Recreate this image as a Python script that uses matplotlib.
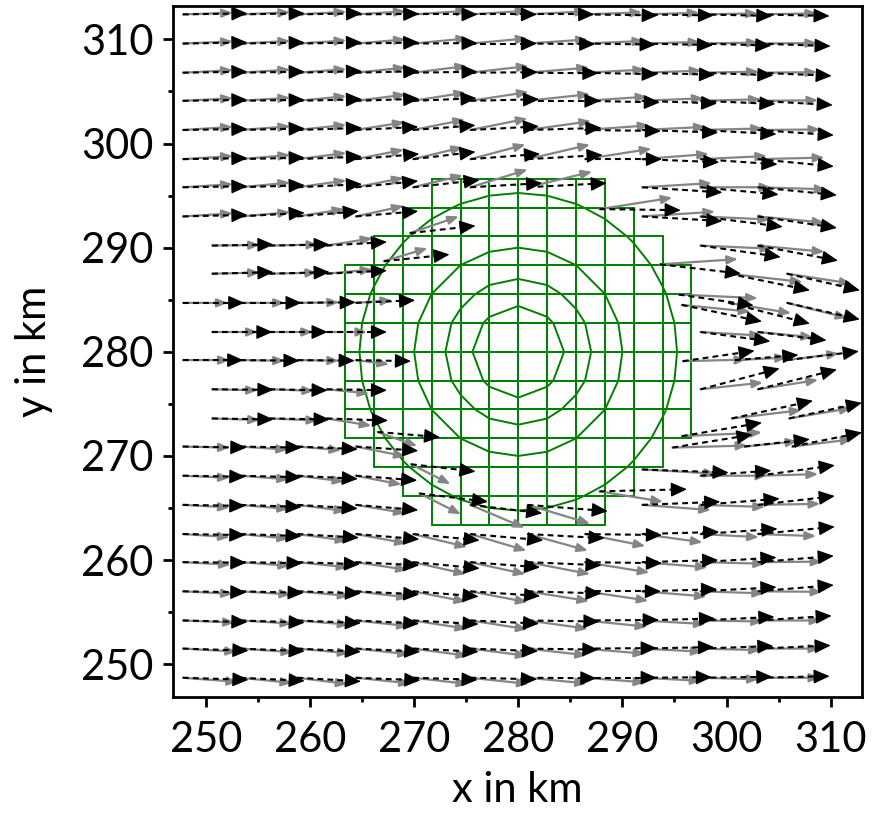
import matplotlib
matplotlib.use("Agg")
import matplotlib.pyplot as plt
import numpy as np
from matplotlib.patches import Rectangle
from matplotlib.ticker import MultipleLocator

# ---------------- data (km) ----------------
COLS = [247.8, 253.3, 258.8, 264.4, 269.9, 275.4, 280.9, 286.4, 291.9, 297.5, 303.0]
STAG = [250.6, 256.1, 261.6, 267.1, 272.7, 278.2, 283.7, 289.2, 294.7, 300.2, 305.8]

ROW_Y = [312.4, 309.6, 306.8, 304.1, 301.3, 298.5, 295.8, 293.0, 290.2, 287.5, 284.7, 281.9,
         279.2, 276.4, 273.6, 270.9, 268.1, 265.3, 262.5, 259.8, 257.0, 254.2, 251.5, 248.7]

ROW_X = [
    COLS, COLS, COLS, COLS, COLS, COLS,
    COLS[0:7] + COLS[8:11],
    COLS[0:4] + COLS[8:11],
    STAG[0:3] + COLS[9:11],
    STAG[0:3] + STAG[9:11],
    COLS[0:4] + STAG[9:11],
    STAG[0:3] + COLS[9:11],
    COLS[0:4] + [300.8, STAG[10]],
    STAG[0:3] + COLS[9:11],
    STAG[0:3] + [300.5, 306.0],
    COLS[0:4] + [301.7, 306.3],
    COLS[0:4] + COLS[9:11],
    COLS[0:4] + [COLS[5], COLS[6]] + COLS[8:11],
    COLS, COLS, COLS, COLS, COLS, COLS,
]

# gray (solid) vectors
GU = [
    [4.8, 4.8, 4.7, 4.8, 5.3, 5.5, 5.7, 5.5, 5.5, 5.5, 5.7],
    [4.8, 4.8, 4.7, 4.8, 5.3, 5.5, 5.8, 5.7, 5.6, 5.6, 5.7],
    [4.8, 4.8, 4.7, 4.8, 5.2, 5.6, 5.9, 5.8, 5.7, 5.6, 5.7],
    [4.8, 4.8, 4.7, 4.8, 5.1, 5.6, 6.0, 6.0, 5.9, 5.8, 5.8],
    [4.8, 4.8, 4.7, 4.7, 5.0, 5.5, 6.1, 6.2, 6.1, 6.0, 6.0],
    [4.8, 4.8, 4.7, 4.6, 4.8, 5.3, 6.0, 6.4, 6.4, 6.4, 6.4],
    [4.8, 4.8, 4.7, 4.6, 4.8, 5.5, 6.2, 6.7, 6.8, 6.6],
    [4.8, 4.8, 4.5, 4.6, 7.0, 6.7, 6.4],
    [4.6, 4.7, 4.4, 6.9, 6.4],
    [4.6, 4.6, 4.4, 7.1, 6.2],
    [4.3, 4.3, 4.0, 3.5, 6.0, 5.8],
    [4.4, 4.2, 3.9, 5.9, 5.3],
    [4.5, 4.3, 4.0, 3.2, 5.0, 5.0],
    [4.4, 4.3, 4.1, 6.0, 5.8],
    [4.6, 4.7, 4.3, 6.7, 6.0],
    [4.5, 4.6, 4.2, 4.8, 5.1, 5.8],
    [4.5, 4.7, 4.5, 4.4, 6.4, 5.8],
    [4.5, 4.7, 4.7, 4.8, 5.2, 6.0, 6.6, 6.2, 6.0],
    [4.5, 4.7, 4.8, 4.9, 5.2, 5.4, 5.8, 5.8, 5.8, 5.6, 5.6],
    [4.6, 4.8, 4.9, 5.0, 5.1, 5.3, 6.0, 6.2, 6.3, 6.2, 6.2],
    [4.8, 4.9, 5.0, 5.1, 5.1, 5.5, 5.9, 6.1, 6.2, 6.1, 6.2],
    [5.0, 5.0, 5.0, 5.1, 5.2, 5.5, 5.8, 6.0, 6.1, 6.0, 6.1],
    [5.2, 5.1, 5.0, 5.2, 5.3, 5.5, 5.7, 5.8, 5.8, 5.8, 6.0],
    [5.3, 5.0, 4.8, 5.3, 5.3, 5.6, 5.7, 5.8, 5.7, 5.6, 6.0],
]
GV = [
    [0.15, 0.2, 0.25, 0.3, 0.35, 0.35, 0.3, 0.2, 0.15, 0.1, 0.1],
    [0.2, 0.25, 0.3, 0.4, 0.5, 0.5, 0.4, 0.25, 0.15, 0.1, 0.05],
    [0.25, 0.3, 0.35, 0.5, 0.65, 0.65, 0.5, 0.3, 0.2, 0.1, 0.05],
    [0.25, 0.3, 0.45, 0.6, 0.8, 0.85, 0.65, 0.4, 0.25, 0.15, 0.05],
    [0.3, 0.35, 0.5, 0.75, 1.0, 1.1, 0.85, 0.45, 0.3, 0.15, 0.05],
    [0.3, 0.4, 0.6, 0.9, 1.15, 1.4, 1.4, 1.0, 0.5, 0.3, 0.15],
    [0.3, 0.45, 0.65, 0.9, 1.15, 1.7, 1.5, 0.4, 0.0, -0.2],
    [0.3, 0.4, 0.7, 1.0, 0.45, -0.3, -0.6],
    [0.05, 0.1, 0.7, -0.3, -0.6],
    [0.1, 0.1, 0.4, -0.8, -0.95],
    [0.0, 0.0, 0.05, 0.25, -1.0, -1.45],
    [0.0, 0.0, 0.0, -0.35, -0.5],
    [0.0, -0.05, -0.05, -0.4, 0.25, 0.65],
    [-0.1, -0.15, -0.4, 0.65, 0.9],
    [-0.15, -0.2, -0.7, 0.8, 1.0],
    [-0.1, -0.3, -0.35, -0.95, 0.5, 0.7],
    [-0.2, -0.35, -0.55, -0.85, 0.0, 0.15],
    [-0.25, -0.4, -0.6, -0.8, -2.2, -1.8, -0.5, -0.2, 0.1],
    [-0.3, -0.45, -0.65, -0.9, -1.25, -1.6, -1.6, -1.15, -0.8, -0.3, -0.2],
    [-0.25, -0.35, -0.5, -0.75, -1.15, -1.15, -1.15, -1.0, -0.5, -0.15, 0.05],
    [-0.25, -0.3, -0.45, -0.6, -1.0, -1.05, -0.95, -0.9, -0.5, -0.2, -0.05],
    [-0.2, -0.3, -0.4, -0.55, -0.8, -0.85, -0.8, -0.6, -0.35, -0.1, 0.0],
    [-0.3, -0.35, -0.45, -0.55, -0.7, -0.7, -0.65, -0.5, -0.3, -0.15, 0.0],
    [-0.4, -0.5, -0.6, -0.55, -0.6, -0.6, -0.55, -0.45, -0.3, -0.15, 0.0],
]
# black (dashed) vectors
BU = [
    [6.2, 6.2, 6.2, 6.1, 6.2, 6.4, 6.4, 7.0, 6.9, 6.9, 6.9],
    [6.2, 6.2, 6.2, 6.1, 6.2, 6.4, 6.5, 6.8, 6.8, 6.8, 7.0],
    [6.2, 6.2, 6.2, 6.1, 6.2, 6.5, 6.8, 7.0, 7.0, 7.0, 7.1],
    [6.2, 6.2, 6.2, 6.1, 6.1, 6.6, 7.0, 7.2, 7.2, 7.2, 7.2],
    [6.2, 6.2, 6.2, 6.0, 6.0, 6.6, 7.1, 7.3, 7.3, 7.3, 7.3],
    [6.2, 6.2, 6.2, 6.1, 6.0, 6.7, 7.2, 7.4, 7.4, 7.4, 7.3],
    [6.2, 6.2, 6.2, 6.0, 6.4, 6.9, 7.6, 7.7, 7.5, 7.6],
    [6.2, 6.2, 5.9, 6.0, 7.7, 7.9, 7.6],
    [5.9, 5.8, 5.8, 7.7, 7.7],
    [5.9, 5.8, 5.8, 7.8, 7.0],
    [5.9, 5.9, 5.6, 5.7, 7.8, 7.0],
    [5.8, 5.6, 5.8, 6.7, 6.6],
    [5.8, 5.7, 5.5, 5.3, 6.1, 6.9],
    [5.9, 5.6, 5.8, 7.6, 7.6],
    [5.9, 5.8, 5.9, 7.8, 7.0],
    [6.1, 5.9, 5.8, 6.0, 6.3, 6.7],
    [6.0, 5.9, 5.8, 5.9, 6.8, 7.4],
    [6.0, 5.9, 5.8, 6.0, 6.9, 7.7, 7.5, 7.6, 7.4],
    [6.0, 5.9, 5.9, 6.1, 6.4, 7.0, 7.4, 7.4, 7.4, 7.4, 7.4],
    [6.1, 6.0, 6.0, 6.1, 6.4, 6.7, 7.1, 7.4, 7.3, 7.3, 7.3],
    [6.1, 6.1, 6.1, 6.1, 6.3, 6.7, 7.1, 7.3, 7.2, 7.3, 7.3],
    [6.2, 6.2, 6.1, 6.1, 6.3, 6.6, 6.9, 7.1, 7.0, 7.1, 7.1],
    [6.3, 6.2, 6.1, 6.2, 6.3, 6.5, 6.8, 6.9, 6.9, 7.0, 7.0],
    [6.3, 6.2, 6.1, 6.2, 6.2, 6.4, 6.6, 6.9, 6.7, 6.9, 6.9],
]
BV = [
    [0.1, 0.1, 0.1, 0.05, 0.0, 0.0, 0.0, -0.1, -0.1, -0.15, -0.15],
    [0.1, 0.1, 0.1, 0.1, 0.05, 0.0, -0.05, -0.1, -0.15, -0.2, -0.25],
    [0.1, 0.1, 0.15, 0.15, 0.1, 0.05, -0.05, -0.15, -0.2, -0.25, -0.3],
    [0.1, 0.1, 0.15, 0.2, 0.25, 0.15, 0.0, -0.15, -0.25, -0.3, -0.4],
    [0.1, 0.15, 0.2, 0.3, 0.45, 0.35, 0.2, -0.1, -0.25, -0.4, -0.5],
    [0.1, 0.15, 0.25, 0.5, 0.7, 0.5, 0.4, 0.0, -0.3, -0.5, -0.7],
    [0.1, 0.2, 0.3, 0.6, 0.7, 0.4, 0.4, -0.5, -0.7, -0.75],
    [0.15, 0.35, 0.5, 0.5, -0.45, -1.0, -1.1],
    [0.1, 0.1, 0.35, -1.1, -1.45],
    [0.15, 0.15, 0.3, -1.6, -1.6],
    [0.0, 0.0, 0.05, 0.25, -2.0, -1.6],
    [0.0, 0.0, 0.0, -0.9, -0.8],
    [0.0, -0.05, -0.05, -0.1, 0.5, 0.85],
    [-0.05, -0.1, -0.1, 2.0, 1.9],
    [-0.1, -0.1, -0.2, 1.7, 1.5],
    [-0.1, -0.1, -0.25, -0.4, 0.7, 1.35],
    [-0.1, -0.15, -0.3, -0.45, 0.5, 1.0],
    [-0.1, -0.2, -0.35, -0.5, -0.8, -0.6, 0.3, 0.6, 0.85],
    [-0.1, -0.2, -0.35, -0.5, -0.6, -0.6, -0.4, -0.1, 0.2, 0.5, 0.7],
    [-0.05, -0.1, -0.2, -0.3, -0.6, -0.5, -0.3, -0.1, 0.2, 0.45, 0.6],
    [-0.1, -0.15, -0.2, -0.3, -0.5, -0.45, -0.2, 0.0, 0.2, 0.4, 0.6],
    [-0.15, -0.2, -0.25, -0.3, -0.35, -0.3, -0.1, 0.05, 0.2, 0.35, 0.45],
    [-0.2, -0.25, -0.3, -0.3, -0.3, -0.25, -0.1, 0.05, 0.15, 0.25, 0.3],
    [-0.2, -0.3, -0.35, -0.25, -0.2, -0.15, -0.05, 0.0, 0.05, 0.1, 0.15],
]

# displaced arrows near the vortex
EX_X = [269.6, 267.1, 287.8, 293.6, 295.4, 295.7, 295.8, 295.7, 294.8, 266.5, 269.7, 270.5, 287.8, 291.9]
EX_Y = [291.4, 288.7, 293.7, 288.4, 285.5, 284.5, 279.1, 271.9, 270.8, 272.3, 269.2, 266.4, 266.6, 268.7]
EX_GU = [4.7, 4.2, 7.0, 7.5, 7.6, 6.6, 6.1, 7.7, 7.2, 3.8, 3.8, 4.0, 6.1, 7.1]
EX_GV = [1.6, 1.25, 1.1, 0.5, -0.35, -0.65, 0.15, 0.35, 0.2, -1.35, -1.9, -2.0, -1.0, -0.4]
EX_BU = [6.3, 6.3, 7.8, 7.8, 7.2, 7.7, 6.9, 7.7, 7.7, 6.0, 6.2, 6.6, 8.4, 8.3]
EX_BV = [0.7, 0.65, -0.1, -0.9, -1.05, -1.6, 1.0, 1.3, 1.25, -0.5, -0.7, -0.8, 0.2, -0.3]

# green analysis grid and contours
CENTER = (280.0, 280.0)
CELL = 2.77
CELL_HALF_WIDTHS = [3, 4, 5, 6, 6, 6, 6, 6, 6, 5, 4, 3]   # rows of cells, top to bottom
CONTOUR_RADII = [4.4, 7.0, 10.0, 15.25]

X_TICKS = [250, 260, 270, 280, 290, 300, 310]
Y_TICKS = [250, 260, 270, 280, 290, 300, 310]

# ---------------- figure ----------------
plt.rcParams["font.family"] = ["Lato", "DejaVu Sans"]
fig = plt.figure(figsize=(8.72, 8.18), dpi=100)
ax = fig.add_axes([0.1984, 0.1479, 0.7901, 0.8447])
ax.set_xlim(246.85, 313.0)
ax.set_ylim(246.85, 313.2)

GREEN = "#008000"
for i, w in enumerate(CELL_HALF_WIDTHS):
    y_top = CENTER[1] + (6 - i) * CELL
    for j in range(-w, w):
        ax.add_patch(Rectangle((CENTER[0] + j * CELL, y_top - CELL), CELL, CELL,
                               fill=False, edgecolor=GREEN, lw=1.4, zorder=1))

nodes = np.arange(-8, 9) * CELL
gx, gy = np.meshgrid(CENTER[0] + nodes, CENTER[1] + nodes)
dist = np.hypot(gx - CENTER[0], gy - CENTER[1])
ax.contour(gx, gy, dist, levels=CONTOUR_RADII, colors=GREEN, linewidths=1.4, zorder=1)

GRAY = "#858585"


def gray_arrow(x, y, u, v):
    ax.annotate("", xy=(x + u, y + v), xytext=(x, y), xycoords="data",
                arrowprops=dict(arrowstyle="-|>,head_length=0.45,head_width=0.18",
                                color=GRAY, lw=1.6, shrinkA=0, shrinkB=0,
                                mutation_scale=14),
                annotation_clip=False, zorder=2)


def black_arrow(x, y, u, v):
    ax.plot([x, x + 0.9 * u], [y, y + 0.9 * v], color="black", lw=1.5,
            linestyle=(0, (2.8, 2.0)), zorder=3, solid_capstyle="butt",
            clip_on=False)
    ax.annotate("", xy=(x + u, y + v), xytext=(x + 0.93 * u, y + 0.93 * v),
                xycoords="data",
                arrowprops=dict(arrowstyle="-|>,head_length=0.45,head_width=0.2",
                                color="black", lw=1.0, shrinkA=0, shrinkB=0,
                                mutation_scale=22),
                annotation_clip=False, zorder=3)


for i, y in enumerate(ROW_Y):
    for x, gu, gv in zip(ROW_X[i], GU[i], GV[i]):
        gray_arrow(x, y, gu, gv)
for x, y, gu, gv in zip(EX_X, EX_Y, EX_GU, EX_GV):
    gray_arrow(x, y, gu, gv)
for i, y in enumerate(ROW_Y):
    for x, bu, bv in zip(ROW_X[i], BU[i], BV[i]):
        black_arrow(x, y, bu, bv)
for x, y, bu, bv in zip(EX_X, EX_Y, EX_BU, EX_BV):
    black_arrow(x, y, bu, bv)

# axes styling
for s in ax.spines.values():
    s.set_linewidth(2.0)
ax.set_xticks(X_TICKS)
ax.set_yticks(Y_TICKS)
ax.xaxis.set_minor_locator(MultipleLocator(5))
ax.yaxis.set_minor_locator(MultipleLocator(5))
ax.tick_params(which="major", direction="out", length=7.2, width=2.0,
               labelsize=30, top=False, right=False)
ax.tick_params(axis="x", which="major", pad=10)
ax.tick_params(axis="y", which="major", pad=7)
ax.tick_params(which="minor", direction="out", length=3.6, width=2.0,
               top=False, right=False)
ax.set_xlabel("x in km", fontsize=30, labelpad=9)
ax.set_ylabel("y in km", fontsize=30, labelpad=20)

fig.savefig("out.png", dpi=100, facecolor="white")
